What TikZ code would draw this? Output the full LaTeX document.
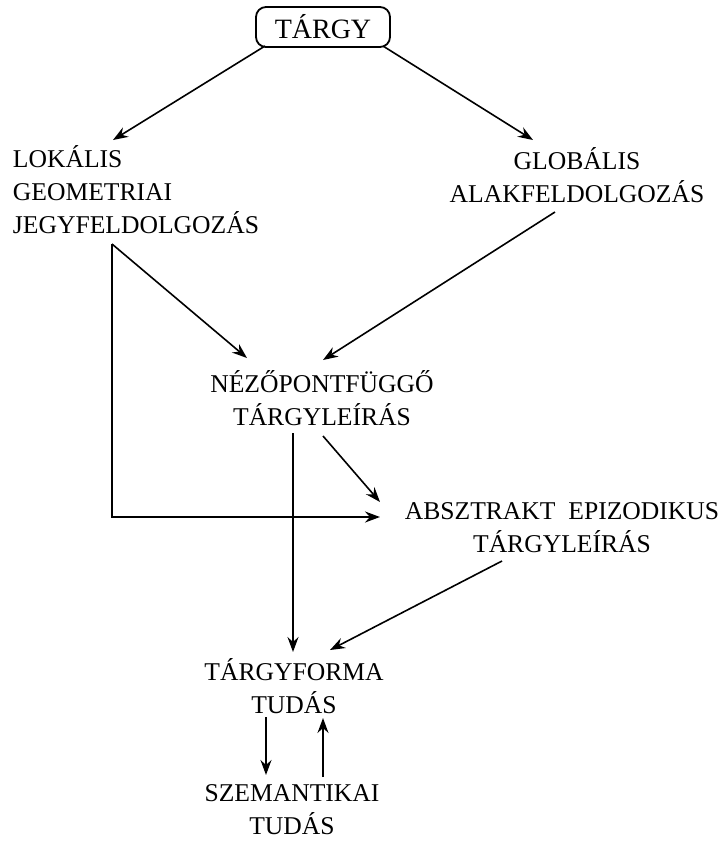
\documentclass[tikz,border=0pt]{standalone}
\usepackage{fontspec}
\setmainfont{Liberation Serif}
\usepackage{tikz}
\usetikzlibrary{arrows.meta, calc}

\begin{document}
\begin{tikzpicture}[
    x=0.5pt, y=-0.5pt,
    every node/.style={font=\fontsize{12.8}{16.5}\selectfont},
    box/.style={rectangle, rounded corners=5pt, draw=black, line width=0.9pt, minimum width=67pt, minimum height=20pt, text centered, font=\fontsize{14}{16}\selectfont},
    label/.style={rectangle, inner sep=0pt, align=center},
    arrow/.style={line width=0.8pt, -{Stealth[length=7.5pt, width=5.5pt, inset=2.5pt]}},
    thickline/.style={line width=1.2pt, -{Stealth[length=7.5pt, width=5.5pt, inset=2.5pt]}}
]
\useasboundingbox (0,0) rectangle (723,843);

% Top
\node (targy) [box] at (323,27) {TÁRGY};

% Two routes
\node (lokalis) [label, align=left] at (136,190) {LOKÁLIS\\GEOMETRIAI\\JEGYFELDOLGOZÁS};
\node (globalis) [label] at (577,175) {GLOBÁLIS\\ALAKFELDOLGOZÁS};

% Descriptions
\node (nezo) [label] at (322,398) {NÉZŐPONTFÜGGŐ\\TÁRGYLEÍRÁS};
\node (abszt) [label] at (562,528) {ABSZTRAKT\ \ EPIZODIKUS\\TÁRGYLEÍRÁS};

% Knowledge
\node (tforma) [label] at (294,686) {TÁRGYFORMA\\TUDÁS};
\node (szem) [label] at (292,810) {SZEMANTIKAI\\TUDÁS};

% Arrows
\draw [arrow] ($(targy)+(-58,19)$) -- ($(lokalis)+(-23,-50)$);
\draw [arrow] ($(targy)+(60,19)$) -- ($(globalis)+(-44,-35)$);
\draw [arrow] ($(lokalis)+(-24,54)$) -- ($(nezo)+(-75,-40)$);
\draw [thickline] ($(lokalis)+(-24,54)$) |- ($(abszt)+(-182,-11)$);
\draw [arrow] ($(globalis)+(-22,37)$) -- ($(nezo)+(1,-38)$);
\draw [arrow] ($(nezo)+(1,38)$) -- ($(abszt)+(-182,-26)$);
\draw [arrow] ($(nezo)+(-29,35)$) -- ($(tforma)+(-1,-34)$);
\draw [arrow] ($(abszt)+(-60,33)$) -- ($(tforma)+(36,-36)$);
\draw [arrow] ($(tforma)+(-28,31)$) -- ($(szem)+(-26,-35)$);
\draw [arrow] ($(szem)+(31,-33)$) -- ($(tforma)+(29,32)$);

\end{tikzpicture}
\end{document}
